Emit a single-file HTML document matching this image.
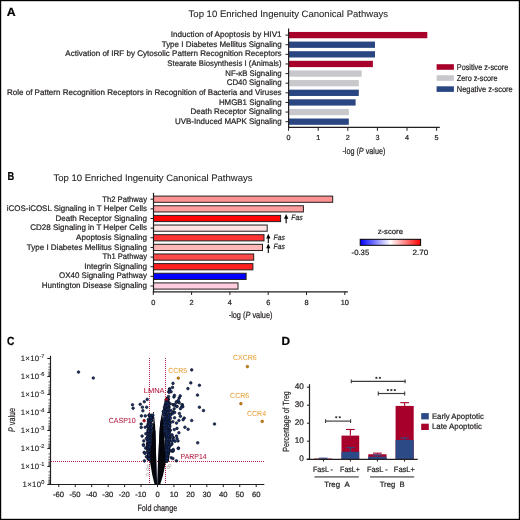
<!DOCTYPE html>
<html><head><meta charset="utf-8"><style>
html,body{margin:0;padding:0;background:#fff;}
svg{display:block;font-family:"Liberation Sans", sans-serif;text-rendering:geometricPrecision;}
#w{position:absolute;left:0;top:0;width:520px;height:520px;transform:translateZ(0);}
</style></head><body>
<div id="w"><svg width="520" height="520" viewBox="0 0 520 520" fill="#231f20">
<text x="6.80" y="16.20" font-size="11.8" textLength="8.90" lengthAdjust="spacingAndGlyphs" font-weight="bold" fill="#000" stroke="#000" stroke-width="0.22">A</text>
<text x="188.60" y="16.80" font-size="9.3" textLength="199.40" lengthAdjust="spacingAndGlyphs" stroke="#231f20" stroke-width="0.1">Top 10 Enriched Ingenuity Canonical Pathways</text>
<text x="281.60" y="37.00" font-size="8.1" text-anchor="end" textLength="110.90" lengthAdjust="spacingAndGlyphs" stroke="#231f20" stroke-width="0.22">Induction of Apoptosis by HIV1</text>
<rect x="288.60" y="31.95" width="138.70" height="6.30" fill="#a6002b"/>
<line x1="285.50" y1="35.10" x2="288.60" y2="35.10" stroke="#231f20" stroke-width="1"/>
<text x="281.60" y="46.68" font-size="8.1" text-anchor="end" textLength="119.90" lengthAdjust="spacingAndGlyphs" stroke="#231f20" stroke-width="0.22">Type I Diabetes Mellitus Signaling</text>
<rect x="288.60" y="41.57" width="86.40" height="6.30" fill="#2a4682"/>
<line x1="285.50" y1="44.72" x2="288.60" y2="44.72" stroke="#231f20" stroke-width="1"/>
<text x="281.60" y="56.36" font-size="8.1" text-anchor="end" textLength="216.30" lengthAdjust="spacingAndGlyphs" stroke="#231f20" stroke-width="0.22">Activation of IRF by Cytosolic Pattern Recognition Receptors</text>
<rect x="288.60" y="51.19" width="86.40" height="6.30" fill="#2a4682"/>
<line x1="285.50" y1="54.34" x2="288.60" y2="54.34" stroke="#231f20" stroke-width="1"/>
<text x="281.60" y="66.04" font-size="8.1" text-anchor="end" textLength="114.30" lengthAdjust="spacingAndGlyphs" stroke="#231f20" stroke-width="0.22">Stearate Biosynthesis I (Animals)</text>
<rect x="288.60" y="60.81" width="84.30" height="6.30" fill="#a6002b"/>
<line x1="285.50" y1="63.96" x2="288.60" y2="63.96" stroke="#231f20" stroke-width="1"/>
<text x="281.60" y="75.72" font-size="8.1" text-anchor="end" textLength="56.30" lengthAdjust="spacingAndGlyphs" stroke="#231f20" stroke-width="0.22">NF-κB Signaling</text>
<rect x="288.60" y="70.43" width="73.10" height="6.30" fill="#c8c7cc"/>
<line x1="285.50" y1="73.58" x2="288.60" y2="73.58" stroke="#231f20" stroke-width="1"/>
<text x="281.60" y="85.40" font-size="8.1" text-anchor="end" textLength="54.90" lengthAdjust="spacingAndGlyphs" stroke="#231f20" stroke-width="0.22">CD40 Signaling</text>
<rect x="288.60" y="80.05" width="70.20" height="6.30" fill="#c8c7cc"/>
<line x1="285.50" y1="83.20" x2="288.60" y2="83.20" stroke="#231f20" stroke-width="1"/>
<text x="281.60" y="95.08" font-size="8.1" text-anchor="end" textLength="274.60" lengthAdjust="spacingAndGlyphs" stroke="#231f20" stroke-width="0.22">Role of Pattern Recognition Receptors in Recognition of Bacteria and Viruses</text>
<rect x="288.60" y="89.67" width="70.20" height="6.30" fill="#2a4682"/>
<line x1="285.50" y1="92.82" x2="288.60" y2="92.82" stroke="#231f20" stroke-width="1"/>
<text x="281.60" y="104.76" font-size="8.1" text-anchor="end" textLength="62.70" lengthAdjust="spacingAndGlyphs" stroke="#231f20" stroke-width="0.22">HMGB1 Signaling</text>
<rect x="288.60" y="99.29" width="67.00" height="6.30" fill="#2a4682"/>
<line x1="285.50" y1="102.44" x2="288.60" y2="102.44" stroke="#231f20" stroke-width="1"/>
<text x="281.60" y="114.44" font-size="8.1" text-anchor="end" textLength="91.10" lengthAdjust="spacingAndGlyphs" stroke="#231f20" stroke-width="0.22">Death Receptor Signaling</text>
<rect x="288.60" y="108.91" width="60.20" height="6.30" fill="#c8c7cc"/>
<line x1="285.50" y1="112.06" x2="288.60" y2="112.06" stroke="#231f20" stroke-width="1"/>
<text x="281.60" y="124.12" font-size="8.1" text-anchor="end" textLength="106.50" lengthAdjust="spacingAndGlyphs" stroke="#231f20" stroke-width="0.22">UVB-Induced MAPK Signaling</text>
<rect x="288.60" y="118.53" width="60.20" height="6.30" fill="#2a4682"/>
<line x1="285.50" y1="121.68" x2="288.60" y2="121.68" stroke="#231f20" stroke-width="1"/>
<line x1="288.60" y1="28.40" x2="288.60" y2="127.90" stroke="#231f20" stroke-width="1.2"/>
<line x1="288.00" y1="127.30" x2="439.80" y2="127.30" stroke="#231f20" stroke-width="1.2"/>
<line x1="288.60" y1="127.30" x2="288.60" y2="130.80" stroke="#231f20" stroke-width="1"/>
<text x="288.60" y="140.40" font-size="7.2" text-anchor="middle" stroke="#231f20" stroke-width="0.22">0</text>
<line x1="318.20" y1="127.30" x2="318.20" y2="130.80" stroke="#231f20" stroke-width="1"/>
<text x="318.20" y="140.40" font-size="7.2" text-anchor="middle" stroke="#231f20" stroke-width="0.22">1</text>
<line x1="347.80" y1="127.30" x2="347.80" y2="130.80" stroke="#231f20" stroke-width="1"/>
<text x="347.80" y="140.40" font-size="7.2" text-anchor="middle" stroke="#231f20" stroke-width="0.22">2</text>
<line x1="377.40" y1="127.30" x2="377.40" y2="130.80" stroke="#231f20" stroke-width="1"/>
<text x="377.40" y="140.40" font-size="7.2" text-anchor="middle" stroke="#231f20" stroke-width="0.22">3</text>
<line x1="407.00" y1="127.30" x2="407.00" y2="130.80" stroke="#231f20" stroke-width="1"/>
<text x="407.00" y="140.40" font-size="7.2" text-anchor="middle" stroke="#231f20" stroke-width="0.22">4</text>
<line x1="436.60" y1="127.30" x2="436.60" y2="130.80" stroke="#231f20" stroke-width="1"/>
<text x="436.60" y="140.40" font-size="7.2" text-anchor="middle" stroke="#231f20" stroke-width="0.22">5</text>
<text x="342.40" y="154.10" font-size="9" textLength="43.00" lengthAdjust="spacingAndGlyphs" stroke="#231f20" stroke-width="0.22">-log (<tspan font-style="italic">P</tspan> value)</text>
<rect x="436.60" y="64.20" width="17.30" height="5.60" fill="#a6002b"/>
<text x="456.80" y="69.70" font-size="8.4" textLength="51.40" lengthAdjust="spacingAndGlyphs" stroke="#231f20" stroke-width="0.22">Positive z-score</text>
<rect x="436.60" y="75.25" width="17.30" height="5.60" fill="#c8c7cc"/>
<text x="456.80" y="80.75" font-size="8.4" textLength="40.70" lengthAdjust="spacingAndGlyphs" stroke="#231f20" stroke-width="0.22">Zero z-score</text>
<rect x="436.60" y="86.30" width="17.30" height="5.60" fill="#2a4682"/>
<text x="456.80" y="91.80" font-size="8.4" textLength="55.90" lengthAdjust="spacingAndGlyphs" stroke="#231f20" stroke-width="0.22">Negative z-score</text>
<text x="7.60" y="180.30" font-size="11.6" textLength="6.70" lengthAdjust="spacingAndGlyphs" font-weight="bold" fill="#000" stroke="#000" stroke-width="0.22">B</text>
<text x="53.40" y="180.80" font-size="9.3" textLength="199.10" lengthAdjust="spacingAndGlyphs" stroke="#231f20" stroke-width="0.1">Top 10 Enriched Ingenuity Canonical Pathways</text>
<text x="147.00" y="201.60" font-size="8.1" text-anchor="end" textLength="44.80" lengthAdjust="spacingAndGlyphs" stroke="#231f20" stroke-width="0.22">Th2 Pathway</text>
<rect x="153.50" y="196.10" width="179.20" height="6.2" fill="#ff9292" stroke="#231f20" stroke-width="1"/>
<line x1="150.50" y1="199.20" x2="153.50" y2="199.20" stroke="#231f20" stroke-width="1"/>
<text x="147.00" y="211.21" font-size="8.1" text-anchor="end" textLength="140.20" lengthAdjust="spacingAndGlyphs" stroke="#231f20" stroke-width="0.22">iCOS-iCOSL Signaling in T Helper Cells</text>
<rect x="153.50" y="205.75" width="149.90" height="6.2" fill="#ff9e9e" stroke="#231f20" stroke-width="1"/>
<line x1="150.50" y1="208.84" x2="153.50" y2="208.84" stroke="#231f20" stroke-width="1"/>
<text x="147.00" y="220.82" font-size="8.1" text-anchor="end" textLength="91.60" lengthAdjust="spacingAndGlyphs" stroke="#231f20" stroke-width="0.22">Death Receptor Signaling</text>
<rect x="153.50" y="215.39" width="127.10" height="6.2" fill="#ff0000" stroke="#231f20" stroke-width="1"/>
<line x1="150.50" y1="218.49" x2="153.50" y2="218.49" stroke="#231f20" stroke-width="1"/>
<text x="147.00" y="230.43" font-size="8.1" text-anchor="end" textLength="116.80" lengthAdjust="spacingAndGlyphs" stroke="#231f20" stroke-width="0.22">CD28 Signaling in T Helper Cells</text>
<rect x="153.50" y="225.03" width="113.70" height="6.2" fill="#ffe2e2" stroke="#231f20" stroke-width="1"/>
<line x1="150.50" y1="228.13" x2="153.50" y2="228.13" stroke="#231f20" stroke-width="1"/>
<text x="147.00" y="240.04" font-size="8.1" text-anchor="end" textLength="71.00" lengthAdjust="spacingAndGlyphs" stroke="#231f20" stroke-width="0.22">Apoptosis Signaling</text>
<rect x="153.50" y="234.68" width="110.50" height="6.2" fill="#ff3333" stroke="#231f20" stroke-width="1"/>
<line x1="150.50" y1="237.78" x2="153.50" y2="237.78" stroke="#231f20" stroke-width="1"/>
<text x="147.00" y="249.65" font-size="8.1" text-anchor="end" textLength="120.20" lengthAdjust="spacingAndGlyphs" stroke="#231f20" stroke-width="0.22">Type I Diabetes Mellitus Signaling</text>
<rect x="153.50" y="244.32" width="109.00" height="6.2" fill="#ffb8b8" stroke="#231f20" stroke-width="1"/>
<line x1="150.50" y1="247.42" x2="153.50" y2="247.42" stroke="#231f20" stroke-width="1"/>
<text x="147.00" y="259.26" font-size="8.1" text-anchor="end" textLength="44.50" lengthAdjust="spacingAndGlyphs" stroke="#231f20" stroke-width="0.22">Th1 Pathway</text>
<rect x="153.50" y="253.97" width="100.20" height="6.2" fill="#ff4a4a" stroke="#231f20" stroke-width="1"/>
<line x1="150.50" y1="257.07" x2="153.50" y2="257.07" stroke="#231f20" stroke-width="1"/>
<text x="147.00" y="268.87" font-size="8.1" text-anchor="end" textLength="62.70" lengthAdjust="spacingAndGlyphs" stroke="#231f20" stroke-width="0.22">Integrin Signaling</text>
<rect x="153.50" y="263.62" width="99.40" height="6.2" fill="#ff1f1f" stroke="#231f20" stroke-width="1"/>
<line x1="150.50" y1="266.72" x2="153.50" y2="266.72" stroke="#231f20" stroke-width="1"/>
<text x="147.00" y="278.48" font-size="8.1" text-anchor="end" textLength="87.90" lengthAdjust="spacingAndGlyphs" stroke="#231f20" stroke-width="0.22">OX40 Signaling Pathway</text>
<rect x="153.50" y="273.26" width="92.60" height="6.2" fill="#0000ff" stroke="#231f20" stroke-width="1"/>
<line x1="150.50" y1="276.36" x2="153.50" y2="276.36" stroke="#231f20" stroke-width="1"/>
<text x="147.00" y="288.09" font-size="8.1" text-anchor="end" textLength="105.20" lengthAdjust="spacingAndGlyphs" stroke="#231f20" stroke-width="0.22">Huntington Disease Signaling</text>
<rect x="153.50" y="282.90" width="84.50" height="6.2" fill="#ffcce0" stroke="#231f20" stroke-width="1"/>
<line x1="150.50" y1="286.00" x2="153.50" y2="286.00" stroke="#231f20" stroke-width="1"/>
<line x1="153.50" y1="192.80" x2="153.50" y2="292.40" stroke="#231f20" stroke-width="1.2"/>
<line x1="152.90" y1="291.80" x2="347.90" y2="291.80" stroke="#231f20" stroke-width="1.2"/>
<line x1="153.30" y1="291.80" x2="153.30" y2="295.00" stroke="#231f20" stroke-width="1"/>
<text x="153.30" y="304.90" font-size="7.4" text-anchor="middle" stroke="#231f20" stroke-width="0.22">0</text>
<line x1="191.60" y1="291.80" x2="191.60" y2="295.00" stroke="#231f20" stroke-width="1"/>
<text x="191.60" y="304.90" font-size="7.4" text-anchor="middle" stroke="#231f20" stroke-width="0.22">2</text>
<line x1="229.90" y1="291.80" x2="229.90" y2="295.00" stroke="#231f20" stroke-width="1"/>
<text x="229.90" y="304.90" font-size="7.4" text-anchor="middle" stroke="#231f20" stroke-width="0.22">4</text>
<line x1="268.20" y1="291.80" x2="268.20" y2="295.00" stroke="#231f20" stroke-width="1"/>
<text x="268.20" y="304.90" font-size="7.4" text-anchor="middle" stroke="#231f20" stroke-width="0.22">6</text>
<line x1="306.50" y1="291.80" x2="306.50" y2="295.00" stroke="#231f20" stroke-width="1"/>
<text x="306.50" y="304.90" font-size="7.4" text-anchor="middle" stroke="#231f20" stroke-width="0.22">8</text>
<line x1="344.80" y1="291.80" x2="344.80" y2="295.00" stroke="#231f20" stroke-width="1"/>
<text x="344.80" y="304.90" font-size="7.4" text-anchor="middle" stroke="#231f20" stroke-width="0.22">10</text>
<text x="228.70" y="318.20" font-size="9" textLength="43.80" lengthAdjust="spacingAndGlyphs" stroke="#231f20" stroke-width="0.22">-log (<tspan font-style="italic">P</tspan> value)</text>
<line x1="286.15" y1="217.1" x2="286.15" y2="223.3" stroke="#000" stroke-width="1.1"/>
<path d="M284.04999999999995,218.7 L286.15,214.1 L288.25,218.7 Z" fill="#000"/>
<text x="291.30" y="220.40" font-size="7.6" textLength="11.30" lengthAdjust="spacingAndGlyphs" font-style="italic" stroke="#231f20" stroke-width="0.22">Fas</text>
<line x1="268.3" y1="236.8" x2="268.3" y2="242.9" stroke="#000" stroke-width="1.1"/>
<path d="M266.2,238.4 L268.3,233.8 L270.40000000000003,238.4 Z" fill="#000"/>
<text x="273.50" y="239.80" font-size="7.6" textLength="11.30" lengthAdjust="spacingAndGlyphs" font-style="italic" stroke="#231f20" stroke-width="0.22">Fas</text>
<line x1="268.3" y1="246.6" x2="268.3" y2="253.1" stroke="#000" stroke-width="1.1"/>
<path d="M266.2,248.2 L268.3,243.6 L270.40000000000003,248.2 Z" fill="#000"/>
<text x="273.50" y="249.30" font-size="7.6" textLength="11.30" lengthAdjust="spacingAndGlyphs" font-style="italic" stroke="#231f20" stroke-width="0.22">Fas</text>
<defs><linearGradient id="zg" x1="0" x2="1" y1="0" y2="0"><stop offset="0" stop-color="#0000ff"/><stop offset="0.5" stop-color="#ffffff"/><stop offset="1" stop-color="#ff0000"/></linearGradient></defs>
<rect x="360.2" y="239.3" width="60.4" height="6.0" fill="url(#zg)" stroke="#000" stroke-width="1"/>
<text x="377.70" y="234.20" font-size="7.6" textLength="25.30" lengthAdjust="spacingAndGlyphs" stroke="#231f20" stroke-width="0.22">z-score</text>
<text x="351.60" y="254.90" font-size="7.6" textLength="17.60" lengthAdjust="spacingAndGlyphs" stroke="#231f20" stroke-width="0.22">-0.35</text>
<text x="412.50" y="254.90" font-size="7.6" textLength="15.90" lengthAdjust="spacingAndGlyphs" stroke="#231f20" stroke-width="0.22">2.70</text>
<text x="7.10" y="345.40" font-size="11.8" textLength="7.40" lengthAdjust="spacingAndGlyphs" font-weight="bold" fill="#000" stroke="#000" stroke-width="0.22">C</text>
<line x1="50.50" y1="355.80" x2="50.50" y2="485.10" stroke="#231f20" stroke-width="1.2"/>
<line x1="47.90" y1="484.50" x2="264.30" y2="484.50" stroke="#231f20" stroke-width="1.2"/>
<line x1="47.30" y1="358.50" x2="50.50" y2="358.50" stroke="#231f20" stroke-width="1"/>
<text x="44.4" y="360.80" font-size="7.8" text-anchor="end" letter-spacing="0.3" fill="#231f20" stroke="#231f20" stroke-width="0.12">1×10<tspan font-size="5.6" dy="-3.3" letter-spacing="0">-7</tspan></text>
<line x1="48.40" y1="363.92" x2="50.50" y2="363.92" stroke="#231f20" stroke-width="0.7"/>
<line x1="48.40" y1="367.09" x2="50.50" y2="367.09" stroke="#231f20" stroke-width="0.7"/>
<line x1="48.40" y1="369.34" x2="50.50" y2="369.34" stroke="#231f20" stroke-width="0.7"/>
<line x1="48.40" y1="371.08" x2="50.50" y2="371.08" stroke="#231f20" stroke-width="0.7"/>
<line x1="48.40" y1="372.51" x2="50.50" y2="372.51" stroke="#231f20" stroke-width="0.7"/>
<line x1="48.40" y1="373.71" x2="50.50" y2="373.71" stroke="#231f20" stroke-width="0.7"/>
<line x1="48.40" y1="374.76" x2="50.50" y2="374.76" stroke="#231f20" stroke-width="0.7"/>
<line x1="48.40" y1="375.68" x2="50.50" y2="375.68" stroke="#231f20" stroke-width="0.7"/>
<line x1="47.30" y1="376.50" x2="50.50" y2="376.50" stroke="#231f20" stroke-width="1"/>
<text x="44.4" y="378.80" font-size="7.8" text-anchor="end" letter-spacing="0.3" fill="#231f20" stroke="#231f20" stroke-width="0.12">1×10<tspan font-size="5.6" dy="-3.3" letter-spacing="0">-6</tspan></text>
<line x1="48.40" y1="381.92" x2="50.50" y2="381.92" stroke="#231f20" stroke-width="0.7"/>
<line x1="48.40" y1="385.09" x2="50.50" y2="385.09" stroke="#231f20" stroke-width="0.7"/>
<line x1="48.40" y1="387.34" x2="50.50" y2="387.34" stroke="#231f20" stroke-width="0.7"/>
<line x1="48.40" y1="389.08" x2="50.50" y2="389.08" stroke="#231f20" stroke-width="0.7"/>
<line x1="48.40" y1="390.51" x2="50.50" y2="390.51" stroke="#231f20" stroke-width="0.7"/>
<line x1="48.40" y1="391.71" x2="50.50" y2="391.71" stroke="#231f20" stroke-width="0.7"/>
<line x1="48.40" y1="392.76" x2="50.50" y2="392.76" stroke="#231f20" stroke-width="0.7"/>
<line x1="48.40" y1="393.68" x2="50.50" y2="393.68" stroke="#231f20" stroke-width="0.7"/>
<line x1="47.30" y1="394.50" x2="50.50" y2="394.50" stroke="#231f20" stroke-width="1"/>
<text x="44.4" y="396.80" font-size="7.8" text-anchor="end" letter-spacing="0.3" fill="#231f20" stroke="#231f20" stroke-width="0.12">1×10<tspan font-size="5.6" dy="-3.3" letter-spacing="0">-5</tspan></text>
<line x1="48.40" y1="399.92" x2="50.50" y2="399.92" stroke="#231f20" stroke-width="0.7"/>
<line x1="48.40" y1="403.09" x2="50.50" y2="403.09" stroke="#231f20" stroke-width="0.7"/>
<line x1="48.40" y1="405.34" x2="50.50" y2="405.34" stroke="#231f20" stroke-width="0.7"/>
<line x1="48.40" y1="407.08" x2="50.50" y2="407.08" stroke="#231f20" stroke-width="0.7"/>
<line x1="48.40" y1="408.51" x2="50.50" y2="408.51" stroke="#231f20" stroke-width="0.7"/>
<line x1="48.40" y1="409.71" x2="50.50" y2="409.71" stroke="#231f20" stroke-width="0.7"/>
<line x1="48.40" y1="410.76" x2="50.50" y2="410.76" stroke="#231f20" stroke-width="0.7"/>
<line x1="48.40" y1="411.68" x2="50.50" y2="411.68" stroke="#231f20" stroke-width="0.7"/>
<line x1="47.30" y1="412.50" x2="50.50" y2="412.50" stroke="#231f20" stroke-width="1"/>
<text x="44.4" y="414.80" font-size="7.8" text-anchor="end" letter-spacing="0.3" fill="#231f20" stroke="#231f20" stroke-width="0.12">1×10<tspan font-size="5.6" dy="-3.3" letter-spacing="0">-4</tspan></text>
<line x1="48.40" y1="417.92" x2="50.50" y2="417.92" stroke="#231f20" stroke-width="0.7"/>
<line x1="48.40" y1="421.09" x2="50.50" y2="421.09" stroke="#231f20" stroke-width="0.7"/>
<line x1="48.40" y1="423.34" x2="50.50" y2="423.34" stroke="#231f20" stroke-width="0.7"/>
<line x1="48.40" y1="425.08" x2="50.50" y2="425.08" stroke="#231f20" stroke-width="0.7"/>
<line x1="48.40" y1="426.51" x2="50.50" y2="426.51" stroke="#231f20" stroke-width="0.7"/>
<line x1="48.40" y1="427.71" x2="50.50" y2="427.71" stroke="#231f20" stroke-width="0.7"/>
<line x1="48.40" y1="428.76" x2="50.50" y2="428.76" stroke="#231f20" stroke-width="0.7"/>
<line x1="48.40" y1="429.68" x2="50.50" y2="429.68" stroke="#231f20" stroke-width="0.7"/>
<line x1="47.30" y1="430.50" x2="50.50" y2="430.50" stroke="#231f20" stroke-width="1"/>
<text x="44.4" y="432.80" font-size="7.8" text-anchor="end" letter-spacing="0.3" fill="#231f20" stroke="#231f20" stroke-width="0.12">1×10<tspan font-size="5.6" dy="-3.3" letter-spacing="0">-3</tspan></text>
<line x1="48.40" y1="435.92" x2="50.50" y2="435.92" stroke="#231f20" stroke-width="0.7"/>
<line x1="48.40" y1="439.09" x2="50.50" y2="439.09" stroke="#231f20" stroke-width="0.7"/>
<line x1="48.40" y1="441.34" x2="50.50" y2="441.34" stroke="#231f20" stroke-width="0.7"/>
<line x1="48.40" y1="443.08" x2="50.50" y2="443.08" stroke="#231f20" stroke-width="0.7"/>
<line x1="48.40" y1="444.51" x2="50.50" y2="444.51" stroke="#231f20" stroke-width="0.7"/>
<line x1="48.40" y1="445.71" x2="50.50" y2="445.71" stroke="#231f20" stroke-width="0.7"/>
<line x1="48.40" y1="446.76" x2="50.50" y2="446.76" stroke="#231f20" stroke-width="0.7"/>
<line x1="48.40" y1="447.68" x2="50.50" y2="447.68" stroke="#231f20" stroke-width="0.7"/>
<line x1="47.30" y1="448.50" x2="50.50" y2="448.50" stroke="#231f20" stroke-width="1"/>
<text x="44.4" y="450.80" font-size="7.8" text-anchor="end" letter-spacing="0.3" fill="#231f20" stroke="#231f20" stroke-width="0.12">1×10<tspan font-size="5.6" dy="-3.3" letter-spacing="0">-2</tspan></text>
<line x1="48.40" y1="453.92" x2="50.50" y2="453.92" stroke="#231f20" stroke-width="0.7"/>
<line x1="48.40" y1="457.09" x2="50.50" y2="457.09" stroke="#231f20" stroke-width="0.7"/>
<line x1="48.40" y1="459.34" x2="50.50" y2="459.34" stroke="#231f20" stroke-width="0.7"/>
<line x1="48.40" y1="461.08" x2="50.50" y2="461.08" stroke="#231f20" stroke-width="0.7"/>
<line x1="48.40" y1="462.51" x2="50.50" y2="462.51" stroke="#231f20" stroke-width="0.7"/>
<line x1="48.40" y1="463.71" x2="50.50" y2="463.71" stroke="#231f20" stroke-width="0.7"/>
<line x1="48.40" y1="464.76" x2="50.50" y2="464.76" stroke="#231f20" stroke-width="0.7"/>
<line x1="48.40" y1="465.68" x2="50.50" y2="465.68" stroke="#231f20" stroke-width="0.7"/>
<line x1="47.30" y1="466.50" x2="50.50" y2="466.50" stroke="#231f20" stroke-width="1"/>
<text x="44.4" y="468.80" font-size="7.8" text-anchor="end" letter-spacing="0.3" fill="#231f20" stroke="#231f20" stroke-width="0.12">1×10<tspan font-size="5.6" dy="-3.3" letter-spacing="0">-1</tspan></text>
<line x1="48.40" y1="471.92" x2="50.50" y2="471.92" stroke="#231f20" stroke-width="0.7"/>
<line x1="48.40" y1="475.09" x2="50.50" y2="475.09" stroke="#231f20" stroke-width="0.7"/>
<line x1="48.40" y1="477.34" x2="50.50" y2="477.34" stroke="#231f20" stroke-width="0.7"/>
<line x1="48.40" y1="479.08" x2="50.50" y2="479.08" stroke="#231f20" stroke-width="0.7"/>
<line x1="48.40" y1="480.51" x2="50.50" y2="480.51" stroke="#231f20" stroke-width="0.7"/>
<line x1="48.40" y1="481.71" x2="50.50" y2="481.71" stroke="#231f20" stroke-width="0.7"/>
<line x1="48.40" y1="482.76" x2="50.50" y2="482.76" stroke="#231f20" stroke-width="0.7"/>
<line x1="48.40" y1="483.68" x2="50.50" y2="483.68" stroke="#231f20" stroke-width="0.7"/>
<line x1="47.30" y1="484.50" x2="50.50" y2="484.50" stroke="#231f20" stroke-width="1"/>
<text x="44.4" y="486.80" font-size="7.8" text-anchor="end" letter-spacing="0.3" fill="#231f20" stroke="#231f20" stroke-width="0.12">1×10<tspan font-size="5.6" dy="-3.3" letter-spacing="0">0</tspan></text>
<line x1="58.80" y1="484.50" x2="58.80" y2="487.10" stroke="#231f20" stroke-width="1"/>
<text x="58.50" y="497.20" font-size="7.6" text-anchor="middle" stroke="#231f20" stroke-width="0.22">-60</text>
<line x1="75.25" y1="484.50" x2="75.25" y2="487.10" stroke="#231f20" stroke-width="1"/>
<text x="74.95" y="497.20" font-size="7.6" text-anchor="middle" stroke="#231f20" stroke-width="0.22">-50</text>
<line x1="91.70" y1="484.50" x2="91.70" y2="487.10" stroke="#231f20" stroke-width="1"/>
<text x="91.40" y="497.20" font-size="7.6" text-anchor="middle" stroke="#231f20" stroke-width="0.22">-40</text>
<line x1="108.15" y1="484.50" x2="108.15" y2="487.10" stroke="#231f20" stroke-width="1"/>
<text x="107.85" y="497.20" font-size="7.6" text-anchor="middle" stroke="#231f20" stroke-width="0.22">-30</text>
<line x1="124.60" y1="484.50" x2="124.60" y2="487.10" stroke="#231f20" stroke-width="1"/>
<text x="124.30" y="497.20" font-size="7.6" text-anchor="middle" stroke="#231f20" stroke-width="0.22">-20</text>
<line x1="141.05" y1="484.50" x2="141.05" y2="487.10" stroke="#231f20" stroke-width="1"/>
<text x="140.75" y="497.20" font-size="7.6" text-anchor="middle" stroke="#231f20" stroke-width="0.22">-10</text>
<line x1="157.50" y1="484.50" x2="157.50" y2="487.10" stroke="#231f20" stroke-width="1"/>
<text x="157.50" y="497.20" font-size="7.6" text-anchor="middle" stroke="#231f20" stroke-width="0.22">0</text>
<line x1="173.95" y1="484.50" x2="173.95" y2="487.10" stroke="#231f20" stroke-width="1"/>
<text x="173.95" y="497.20" font-size="7.6" text-anchor="middle" stroke="#231f20" stroke-width="0.22">10</text>
<line x1="190.40" y1="484.50" x2="190.40" y2="487.10" stroke="#231f20" stroke-width="1"/>
<text x="190.40" y="497.20" font-size="7.6" text-anchor="middle" stroke="#231f20" stroke-width="0.22">20</text>
<line x1="206.85" y1="484.50" x2="206.85" y2="487.10" stroke="#231f20" stroke-width="1"/>
<text x="206.85" y="497.20" font-size="7.6" text-anchor="middle" stroke="#231f20" stroke-width="0.22">30</text>
<line x1="223.30" y1="484.50" x2="223.30" y2="487.10" stroke="#231f20" stroke-width="1"/>
<text x="223.30" y="497.20" font-size="7.6" text-anchor="middle" stroke="#231f20" stroke-width="0.22">40</text>
<line x1="239.75" y1="484.50" x2="239.75" y2="487.10" stroke="#231f20" stroke-width="1"/>
<text x="239.75" y="497.20" font-size="7.6" text-anchor="middle" stroke="#231f20" stroke-width="0.22">50</text>
<line x1="256.20" y1="484.50" x2="256.20" y2="487.10" stroke="#231f20" stroke-width="1"/>
<text x="256.20" y="497.20" font-size="7.6" text-anchor="middle" stroke="#231f20" stroke-width="0.22">60</text>
<text x="137.40" y="510.50" font-size="9" textLength="39.80" lengthAdjust="spacingAndGlyphs" stroke="#231f20" stroke-width="0.22">Fold change</text>
<text transform="translate(15.0,432) rotate(-90)" font-size="9.6" textLength="24" lengthAdjust="spacingAndGlyphs" fill="#231f20" stroke="#231f20" stroke-width="0.2"><tspan font-style="italic">P</tspan> value</text>
<line x1="149.50" y1="358.00" x2="149.50" y2="484.00" stroke="#b8234c" stroke-width="1" stroke-dasharray="1 1"/>
<line x1="165.50" y1="358.00" x2="165.50" y2="484.00" stroke="#b8234c" stroke-width="1" stroke-dasharray="1 1"/>
<line x1="51.00" y1="461.50" x2="265.00" y2="461.50" stroke="#b8234c" stroke-width="1" stroke-dasharray="1 1"/>
<g fill="none" stroke="#8c8c8c" stroke-width="0.5">
<circle cx="147.60" cy="469.20" r="1.3"/>
<circle cx="147.40" cy="474.60" r="1.3"/>
<circle cx="169.60" cy="465.50" r="1.3"/>
<circle cx="168.20" cy="467.30" r="1.3"/>
<circle cx="148.30" cy="466.00" r="1.3"/>
</g>
<polygon fill="#1a2c5e" points="155.92,484.50 155.77,483.50 155.61,482.50 155.46,481.50 155.30,480.50 155.17,479.50 155.06,478.50 154.94,477.50 154.83,476.50 154.72,475.50 154.59,474.50 154.45,473.50 154.31,472.50 154.17,471.50 154.03,470.50 153.89,469.50 153.75,468.50 153.61,467.50 153.47,466.50 153.33,465.50 153.19,464.50 153.05,463.50 152.91,462.50 152.78,461.50 152.67,460.50 152.56,459.50 152.46,458.50 152.35,457.50 152.24,456.50 152.13,455.50 152.02,454.50 151.91,453.50 151.85,452.50 151.83,451.50 151.81,450.50 151.79,449.50 151.77,448.50 151.75,447.50 151.73,446.50 151.71,445.50 151.69,444.50 151.67,443.50 151.65,442.50 151.63,441.50 151.61,440.50 151.61,439.50 151.62,438.50 151.62,437.50 151.63,436.50 151.64,435.50 151.64,434.50 151.65,433.50 151.66,432.50 151.66,431.50 151.67,430.50 155.51,430.50 155.53,431.50 155.55,432.50 155.57,433.50 155.59,434.50 155.61,435.50 155.63,436.50 155.65,437.50 155.67,438.50 155.69,439.50 155.71,440.50 155.73,441.50 155.76,442.50 155.78,443.50 155.80,444.50 155.83,445.50 155.85,446.50 155.87,447.50 155.90,448.50 155.92,449.50 155.94,450.50 155.97,451.50 155.99,452.50 156.02,453.50 156.05,454.50 156.08,455.50 156.12,456.50 156.15,457.50 156.18,458.50 156.22,459.50 156.25,460.50 156.28,461.50 156.31,462.50 156.33,463.50 156.36,464.50 156.38,465.50 156.40,466.50 156.43,467.50 156.45,468.50 156.47,469.50 156.50,470.50 156.52,471.50 156.54,472.50 156.57,473.50 156.59,474.50 156.62,475.50 156.66,476.50 156.70,477.50 156.74,478.50 156.78,479.50 156.82,480.50 156.87,481.50 156.91,482.50 156.96,483.50 157.00,484.50"/>
<polygon fill="#1a2c5e" points="158.66,484.50 158.80,483.50 158.94,482.50 159.09,481.50 159.23,480.50 159.38,479.50 159.55,478.50 159.72,477.50 159.88,476.50 160.05,475.50 160.21,474.50 160.38,473.50 160.55,472.50 160.72,471.50 160.89,470.50 161.06,469.50 161.22,468.50 161.39,467.50 161.56,466.50 161.73,465.50 161.90,464.50 162.07,463.50 162.24,462.50 162.38,461.50 162.51,460.50 162.63,459.50 162.76,458.50 162.88,457.50 163.01,456.50 163.14,455.50 163.26,454.50 163.39,453.50 163.48,452.50 163.55,451.50 163.61,450.50 163.67,449.50 163.74,448.50 163.80,447.50 163.86,446.50 163.93,445.50 163.99,444.50 164.05,443.50 164.12,442.50 164.18,441.50 164.24,440.50 164.30,439.50 164.34,438.50 164.38,437.50 164.42,436.50 164.46,435.50 164.50,434.50 164.53,433.50 164.58,432.50 164.62,431.50 164.66,430.50 164.71,429.50 164.77,428.50 164.84,427.50 164.91,426.50 164.97,425.50 165.04,424.50 165.11,423.50 165.17,422.50 165.27,421.50 165.39,420.50 160.55,420.50 160.38,421.50 160.25,422.50 160.15,423.50 160.05,424.50 159.95,425.50 159.85,426.50 159.75,427.50 159.65,428.50 159.55,429.50 159.48,430.50 159.44,431.50 159.40,432.50 159.36,433.50 159.32,434.50 159.28,435.50 159.24,436.50 159.20,437.50 159.16,438.50 159.12,439.50 159.08,440.50 159.03,441.50 158.98,442.50 158.94,443.50 158.89,444.50 158.85,445.50 158.80,446.50 158.75,447.50 158.71,448.50 158.66,449.50 158.62,450.50 158.57,451.50 158.52,452.50 158.47,453.50 158.42,454.50 158.36,455.50 158.31,456.50 158.25,457.50 158.19,458.50 158.14,459.50 158.08,460.50 158.03,461.50 157.99,462.50 157.97,463.50 157.94,464.50 157.92,465.50 157.90,466.50 157.87,467.50 157.85,468.50 157.83,469.50 157.80,470.50 157.78,471.50 157.76,472.50 157.73,473.50 157.71,474.50 157.68,475.50 157.64,476.50 157.60,477.50 157.56,478.50 157.52,479.50 157.49,480.50 157.47,481.50 157.44,482.50 157.42,483.50 157.40,484.50"/>
<polygon fill="#04060b" points="154.60,484.50 152.30,475.00 150.00,462.00 150.40,452.00 151.00,445.00 152.00,435.00 153.00,425.00 153.80,418.00 154.00,412.00 153.00,412.00 154.27,418.00 155.06,425.00 155.60,435.00 155.82,445.00 155.98,452.00 156.30,462.00 156.60,475.00 157.00,484.50"/>
<polygon fill="#04060b" points="157.40,484.50 157.70,475.00 158.00,462.00 158.55,452.00 158.87,445.00 159.30,435.00 160.00,425.00 160.97,418.00 162.17,412.00 162.60,412.00 162.80,418.00 163.40,425.00 164.00,435.00 164.80,445.00 165.60,452.00 165.80,462.00 163.10,475.00 160.20,484.50"/>
<g fill="#183474" stroke="#0d0d16" stroke-width="0.65">
<circle cx="168.48" cy="452.43" r="1.3"/>
<circle cx="166.64" cy="449.69" r="1.3"/>
<circle cx="164.85" cy="426.52" r="1.3"/>
<circle cx="148.65" cy="435.61" r="1.3"/>
<circle cx="167.61" cy="403.59" r="1.3"/>
<circle cx="167.23" cy="420.25" r="1.3"/>
<circle cx="167.27" cy="441.80" r="1.3"/>
<circle cx="167.81" cy="399.13" r="1.3"/>
<circle cx="163.74" cy="419.61" r="1.3"/>
<circle cx="166.97" cy="460.67" r="1.3"/>
<circle cx="148.07" cy="452.63" r="1.3"/>
<circle cx="165.20" cy="430.80" r="1.3"/>
<circle cx="149.92" cy="443.32" r="1.3"/>
<circle cx="166.04" cy="425.22" r="1.3"/>
<circle cx="165.91" cy="444.03" r="1.3"/>
<circle cx="149.14" cy="456.55" r="1.3"/>
<circle cx="166.94" cy="459.48" r="1.3"/>
<circle cx="165.61" cy="423.41" r="1.3"/>
<circle cx="165.44" cy="407.03" r="1.3"/>
<circle cx="167.24" cy="448.05" r="1.3"/>
<circle cx="151.55" cy="418.88" r="1.3"/>
<circle cx="149.05" cy="434.16" r="1.3"/>
<circle cx="150.02" cy="444.42" r="1.3"/>
<circle cx="167.87" cy="418.95" r="1.3"/>
<circle cx="147.97" cy="426.98" r="1.3"/>
<circle cx="169.83" cy="449.99" r="1.3"/>
<circle cx="173.25" cy="437.49" r="1.3"/>
<circle cx="166.40" cy="434.07" r="1.3"/>
<circle cx="149.07" cy="459.47" r="1.3"/>
<circle cx="168.81" cy="437.18" r="1.3"/>
<circle cx="147.83" cy="447.69" r="1.3"/>
<circle cx="148.01" cy="437.56" r="1.3"/>
<circle cx="166.14" cy="447.50" r="1.3"/>
<circle cx="168.66" cy="415.33" r="1.3"/>
<circle cx="167.36" cy="450.34" r="1.3"/>
<circle cx="150.42" cy="441.56" r="1.3"/>
<circle cx="167.12" cy="458.28" r="1.3"/>
<circle cx="149.37" cy="448.33" r="1.3"/>
<circle cx="167.20" cy="442.07" r="1.3"/>
<circle cx="149.31" cy="449.43" r="1.3"/>
<circle cx="169.04" cy="410.66" r="1.3"/>
<circle cx="168.52" cy="419.43" r="1.3"/>
<circle cx="166.81" cy="458.58" r="1.3"/>
<circle cx="167.07" cy="451.37" r="1.3"/>
<circle cx="168.70" cy="442.61" r="1.3"/>
<circle cx="167.37" cy="456.17" r="1.3"/>
<circle cx="147.89" cy="437.42" r="1.3"/>
<circle cx="165.46" cy="435.02" r="1.3"/>
<circle cx="165.75" cy="411.24" r="1.3"/>
<circle cx="169.87" cy="426.05" r="1.3"/>
<circle cx="168.04" cy="423.34" r="1.3"/>
<circle cx="147.97" cy="425.98" r="1.3"/>
<circle cx="166.19" cy="426.80" r="1.3"/>
<circle cx="174.25" cy="429.57" r="1.3"/>
<circle cx="150.34" cy="436.61" r="1.3"/>
<circle cx="168.35" cy="420.56" r="1.3"/>
<circle cx="165.28" cy="405.80" r="1.3"/>
<circle cx="167.53" cy="444.35" r="1.3"/>
<circle cx="148.16" cy="431.90" r="1.3"/>
<circle cx="167.20" cy="403.06" r="1.3"/>
<circle cx="166.01" cy="447.88" r="1.3"/>
<circle cx="167.52" cy="452.13" r="1.3"/>
<circle cx="148.32" cy="419.56" r="1.3"/>
<circle cx="169.64" cy="423.67" r="1.3"/>
<circle cx="164.54" cy="409.14" r="1.3"/>
<circle cx="149.13" cy="447.52" r="1.3"/>
<circle cx="167.55" cy="444.39" r="1.3"/>
<circle cx="165.24" cy="418.38" r="1.3"/>
<circle cx="165.51" cy="412.24" r="1.3"/>
<circle cx="164.41" cy="414.29" r="1.3"/>
<circle cx="149.72" cy="433.28" r="1.3"/>
<circle cx="147.81" cy="447.95" r="1.3"/>
<circle cx="167.25" cy="457.78" r="1.3"/>
<circle cx="149.09" cy="459.03" r="1.3"/>
<circle cx="147.83" cy="432.43" r="1.3"/>
<circle cx="167.07" cy="456.64" r="1.3"/>
<circle cx="147.95" cy="446.23" r="1.3"/>
<circle cx="166.83" cy="433.03" r="1.3"/>
<circle cx="148.64" cy="426.73" r="1.3"/>
<circle cx="167.10" cy="445.36" r="1.3"/>
<circle cx="167.95" cy="401.02" r="1.3"/>
<circle cx="168.81" cy="432.43" r="1.3"/>
<circle cx="148.35" cy="426.36" r="1.3"/>
<circle cx="166.77" cy="429.93" r="1.3"/>
<circle cx="148.35" cy="451.83" r="1.3"/>
<circle cx="166.75" cy="441.40" r="1.3"/>
<circle cx="167.13" cy="454.98" r="1.3"/>
<circle cx="168.66" cy="437.46" r="1.3"/>
<circle cx="148.26" cy="453.83" r="1.3"/>
<circle cx="167.49" cy="453.37" r="1.3"/>
<circle cx="167.46" cy="399.21" r="1.3"/>
<circle cx="148.45" cy="455.33" r="1.3"/>
<circle cx="166.05" cy="447.26" r="1.3"/>
<circle cx="167.42" cy="455.58" r="1.3"/>
<circle cx="148.50" cy="450.39" r="1.3"/>
<circle cx="164.89" cy="431.96" r="1.3"/>
<circle cx="166.42" cy="402.39" r="1.3"/>
<circle cx="167.19" cy="434.98" r="1.3"/>
<circle cx="166.30" cy="448.04" r="1.3"/>
<circle cx="148.96" cy="456.59" r="1.3"/>
<circle cx="167.94" cy="398.85" r="1.3"/>
<circle cx="167.98" cy="427.60" r="1.3"/>
<circle cx="148.56" cy="447.70" r="1.3"/>
<circle cx="165.62" cy="431.36" r="1.3"/>
<circle cx="170.92" cy="410.45" r="1.3"/>
<circle cx="148.57" cy="448.50" r="1.3"/>
<circle cx="164.32" cy="420.75" r="1.3"/>
<circle cx="168.39" cy="445.95" r="1.3"/>
<circle cx="166.88" cy="400.08" r="1.3"/>
<circle cx="166.18" cy="409.75" r="1.3"/>
<circle cx="151.43" cy="428.70" r="1.3"/>
<circle cx="167.03" cy="459.38" r="1.3"/>
<circle cx="149.57" cy="449.77" r="1.3"/>
<circle cx="166.39" cy="438.28" r="1.3"/>
<circle cx="149.20" cy="443.89" r="1.3"/>
<circle cx="168.53" cy="451.50" r="1.3"/>
<circle cx="165.13" cy="413.32" r="1.3"/>
<circle cx="148.83" cy="458.07" r="1.3"/>
<circle cx="166.80" cy="452.14" r="1.3"/>
<circle cx="168.63" cy="451.68" r="1.3"/>
<circle cx="164.82" cy="427.13" r="1.3"/>
<circle cx="163.99" cy="412.73" r="1.3"/>
<circle cx="148.49" cy="441.98" r="1.3"/>
<circle cx="148.92" cy="440.07" r="1.3"/>
<circle cx="167.42" cy="440.70" r="1.3"/>
<circle cx="169.42" cy="436.67" r="1.3"/>
<circle cx="168.96" cy="441.33" r="1.3"/>
<circle cx="170.10" cy="414.14" r="1.3"/>
<circle cx="168.87" cy="436.45" r="1.3"/>
<circle cx="166.99" cy="399.81" r="1.3"/>
<circle cx="152.60" cy="418.06" r="1.3"/>
<circle cx="148.08" cy="451.02" r="1.3"/>
<circle cx="163.45" cy="411.34" r="1.3"/>
<circle cx="148.56" cy="444.71" r="1.3"/>
<circle cx="149.53" cy="440.84" r="1.3"/>
<circle cx="166.71" cy="459.85" r="1.3"/>
<circle cx="167.00" cy="404.69" r="1.3"/>
<circle cx="148.80" cy="420.63" r="1.3"/>
<circle cx="166.86" cy="456.59" r="1.3"/>
<circle cx="148.51" cy="436.93" r="1.3"/>
<circle cx="167.36" cy="456.56" r="1.3"/>
<circle cx="150.73" cy="439.57" r="1.3"/>
<circle cx="164.53" cy="422.86" r="1.3"/>
<circle cx="166.94" cy="460.79" r="1.3"/>
<circle cx="166.72" cy="455.68" r="1.3"/>
<circle cx="166.67" cy="435.86" r="1.3"/>
<circle cx="168.16" cy="403.28" r="1.3"/>
<circle cx="149.04" cy="415.49" r="1.3"/>
<circle cx="149.18" cy="449.36" r="1.3"/>
<circle cx="168.05" cy="452.13" r="1.3"/>
<circle cx="165.81" cy="436.65" r="1.3"/>
<circle cx="166.33" cy="449.15" r="1.3"/>
<circle cx="168.49" cy="443.45" r="1.3"/>
<circle cx="147.64" cy="446.34" r="1.3"/>
<circle cx="165.95" cy="447.53" r="1.3"/>
<circle cx="149.43" cy="450.78" r="1.3"/>
<circle cx="169.15" cy="427.07" r="1.3"/>
<circle cx="147.78" cy="439.96" r="1.3"/>
<circle cx="147.61" cy="445.07" r="1.3"/>
<circle cx="165.15" cy="421.14" r="1.3"/>
<circle cx="166.60" cy="437.93" r="1.3"/>
<circle cx="152.19" cy="417.62" r="1.3"/>
<circle cx="167.67" cy="452.34" r="1.3"/>
<circle cx="167.86" cy="399.65" r="1.3"/>
<circle cx="150.13" cy="434.06" r="1.3"/>
<circle cx="148.69" cy="457.29" r="1.3"/>
<circle cx="167.61" cy="407.16" r="1.3"/>
<circle cx="166.71" cy="433.23" r="1.3"/>
<circle cx="167.40" cy="448.40" r="1.3"/>
<circle cx="168.62" cy="438.81" r="1.3"/>
<circle cx="167.83" cy="399.29" r="1.3"/>
<circle cx="166.73" cy="411.89" r="1.3"/>
<circle cx="173.84" cy="412.02" r="1.3"/>
<circle cx="167.85" cy="433.90" r="1.3"/>
<circle cx="149.34" cy="455.67" r="1.3"/>
<circle cx="171.27" cy="457.79" r="1.3"/>
<circle cx="167.64" cy="403.34" r="1.3"/>
<circle cx="165.54" cy="424.99" r="1.3"/>
<circle cx="164.06" cy="412.14" r="1.3"/>
<circle cx="166.54" cy="423.70" r="1.3"/>
<circle cx="150.64" cy="426.14" r="1.3"/>
<circle cx="167.11" cy="401.80" r="1.3"/>
<circle cx="148.32" cy="423.45" r="1.3"/>
<circle cx="166.70" cy="399.17" r="1.3"/>
<circle cx="151.62" cy="428.15" r="1.3"/>
<circle cx="168.62" cy="416.68" r="1.3"/>
<circle cx="166.57" cy="407.39" r="1.3"/>
<circle cx="166.50" cy="426.83" r="1.3"/>
<circle cx="166.75" cy="449.44" r="1.3"/>
<circle cx="166.49" cy="441.29" r="1.3"/>
<circle cx="150.68" cy="416.51" r="1.3"/>
<circle cx="150.69" cy="436.27" r="1.3"/>
<circle cx="149.23" cy="459.31" r="1.3"/>
<circle cx="166.69" cy="431.69" r="1.3"/>
<circle cx="166.90" cy="443.70" r="1.3"/>
<circle cx="167.18" cy="456.51" r="1.3"/>
<circle cx="167.86" cy="456.16" r="1.3"/>
<circle cx="168.91" cy="428.98" r="1.3"/>
<circle cx="146.36" cy="456.76" r="1.3"/>
<circle cx="168.44" cy="451.17" r="1.3"/>
<circle cx="167.64" cy="451.53" r="1.3"/>
<circle cx="148.55" cy="453.34" r="1.3"/>
<circle cx="172.86" cy="421.73" r="1.3"/>
<circle cx="170.01" cy="430.41" r="1.3"/>
<circle cx="164.85" cy="432.37" r="1.3"/>
<circle cx="149.23" cy="414.96" r="1.3"/>
<circle cx="166.05" cy="408.14" r="1.3"/>
<circle cx="165.99" cy="447.29" r="1.3"/>
<circle cx="147.90" cy="446.82" r="1.3"/>
<circle cx="149.95" cy="432.13" r="1.3"/>
<circle cx="149.24" cy="459.20" r="1.3"/>
<circle cx="169.08" cy="439.95" r="1.3"/>
<circle cx="149.07" cy="423.35" r="1.3"/>
<circle cx="172.09" cy="434.90" r="1.3"/>
<circle cx="166.56" cy="456.27" r="1.3"/>
<circle cx="149.40" cy="455.51" r="1.3"/>
<circle cx="166.71" cy="453.95" r="1.3"/>
<circle cx="148.40" cy="443.93" r="1.3"/>
<circle cx="150.73" cy="429.69" r="1.3"/>
<circle cx="168.26" cy="451.83" r="1.3"/>
<circle cx="147.80" cy="449.02" r="1.3"/>
<circle cx="169.39" cy="441.34" r="1.3"/>
<circle cx="149.37" cy="452.37" r="1.3"/>
<circle cx="167.65" cy="437.44" r="1.3"/>
<circle cx="167.43" cy="449.84" r="1.3"/>
<circle cx="149.55" cy="426.89" r="1.3"/>
<circle cx="168.97" cy="446.84" r="1.3"/>
<circle cx="168.13" cy="406.75" r="1.3"/>
<circle cx="166.21" cy="415.33" r="1.3"/>
<circle cx="152.13" cy="417.22" r="1.3"/>
<circle cx="145.64" cy="448.15" r="1.3"/>
<circle cx="167.63" cy="443.13" r="1.3"/>
<circle cx="170.12" cy="421.71" r="1.3"/>
<circle cx="150.53" cy="427.48" r="1.3"/>
<circle cx="169.57" cy="439.12" r="1.3"/>
<circle cx="148.61" cy="453.31" r="1.3"/>
<circle cx="166.87" cy="454.90" r="1.3"/>
<circle cx="149.77" cy="445.88" r="1.3"/>
<circle cx="166.66" cy="459.74" r="1.3"/>
<circle cx="147.96" cy="440.67" r="1.3"/>
<circle cx="168.60" cy="446.03" r="1.3"/>
<circle cx="169.07" cy="406.95" r="1.3"/>
<circle cx="166.28" cy="400.13" r="1.3"/>
<circle cx="147.57" cy="443.39" r="1.3"/>
<circle cx="166.80" cy="459.54" r="1.3"/>
<circle cx="165.69" cy="420.73" r="1.3"/>
<circle cx="170.00" cy="429.91" r="1.3"/>
<circle cx="168.04" cy="453.76" r="1.3"/>
<circle cx="166.72" cy="398.92" r="1.3"/>
<circle cx="149.05" cy="459.12" r="1.3"/>
<circle cx="148.49" cy="421.62" r="1.3"/>
<circle cx="168.57" cy="421.37" r="1.3"/>
<circle cx="149.51" cy="441.23" r="1.3"/>
<circle cx="168.97" cy="424.38" r="1.3"/>
<circle cx="148.18" cy="436.28" r="1.3"/>
<circle cx="166.37" cy="424.30" r="1.3"/>
<circle cx="167.80" cy="453.74" r="1.3"/>
<circle cx="165.87" cy="405.36" r="1.3"/>
<circle cx="150.17" cy="441.17" r="1.3"/>
<circle cx="166.16" cy="403.89" r="1.3"/>
<circle cx="147.74" cy="448.41" r="1.3"/>
<circle cx="169.42" cy="414.27" r="1.3"/>
<circle cx="166.63" cy="451.65" r="1.3"/>
<circle cx="172.17" cy="451.15" r="1.3"/>
<circle cx="167.77" cy="449.09" r="1.3"/>
<circle cx="166.34" cy="433.19" r="1.3"/>
<circle cx="166.73" cy="458.83" r="1.3"/>
<circle cx="168.45" cy="407.41" r="1.3"/>
<circle cx="166.42" cy="399.42" r="1.3"/>
<circle cx="164.95" cy="417.22" r="1.3"/>
<circle cx="167.20" cy="427.25" r="1.3"/>
<circle cx="168.95" cy="418.60" r="1.3"/>
<circle cx="165.16" cy="426.05" r="1.3"/>
<circle cx="148.48" cy="429.81" r="1.3"/>
<circle cx="168.81" cy="446.65" r="1.3"/>
<circle cx="168.72" cy="415.76" r="1.3"/>
<circle cx="148.98" cy="452.61" r="1.3"/>
<circle cx="148.81" cy="446.90" r="1.3"/>
<circle cx="149.61" cy="421.37" r="1.3"/>
<circle cx="149.53" cy="415.11" r="1.3"/>
<circle cx="167.59" cy="457.44" r="1.3"/>
<circle cx="167.25" cy="440.23" r="1.3"/>
<circle cx="148.62" cy="442.23" r="1.3"/>
<circle cx="166.33" cy="440.74" r="1.3"/>
<circle cx="150.85" cy="426.49" r="1.3"/>
<circle cx="148.20" cy="434.49" r="1.3"/>
<circle cx="166.77" cy="441.06" r="1.3"/>
<circle cx="166.72" cy="460.74" r="1.3"/>
<circle cx="148.44" cy="448.99" r="1.3"/>
<circle cx="167.03" cy="399.58" r="1.3"/>
<circle cx="172.55" cy="437.48" r="1.3"/>
<circle cx="149.22" cy="450.31" r="1.3"/>
<circle cx="148.37" cy="450.94" r="1.3"/>
<circle cx="148.54" cy="435.45" r="1.3"/>
<circle cx="148.07" cy="430.37" r="1.3"/>
<circle cx="166.65" cy="454.93" r="1.3"/>
<circle cx="149.26" cy="457.75" r="1.3"/>
<circle cx="167.10" cy="455.74" r="1.3"/>
<circle cx="170.26" cy="403.73" r="1.3"/>
<circle cx="168.45" cy="433.61" r="1.3"/>
<circle cx="171.93" cy="443.90" r="1.3"/>
<circle cx="150.70" cy="423.88" r="1.3"/>
<circle cx="170.06" cy="414.40" r="1.3"/>
<circle cx="166.02" cy="412.08" r="1.3"/>
<circle cx="151.11" cy="432.91" r="1.3"/>
<circle cx="166.55" cy="459.15" r="1.3"/>
<circle cx="166.62" cy="404.15" r="1.3"/>
<circle cx="166.99" cy="449.49" r="1.3"/>
<circle cx="164.87" cy="431.31" r="1.3"/>
<circle cx="149.68" cy="448.17" r="1.3"/>
<circle cx="148.39" cy="434.61" r="1.3"/>
<circle cx="150.47" cy="440.25" r="1.3"/>
<circle cx="174.15" cy="408.85" r="1.3"/>
<circle cx="166.24" cy="450.45" r="1.3"/>
<circle cx="147.66" cy="448.19" r="1.3"/>
<circle cx="149.28" cy="438.48" r="1.3"/>
<circle cx="150.13" cy="443.05" r="1.3"/>
<circle cx="167.65" cy="441.38" r="1.3"/>
<circle cx="168.48" cy="452.39" r="1.3"/>
<circle cx="166.58" cy="460.47" r="1.3"/>
<circle cx="147.78" cy="448.67" r="1.3"/>
<circle cx="148.79" cy="455.84" r="1.3"/>
<circle cx="166.17" cy="420.26" r="1.3"/>
<circle cx="166.76" cy="401.32" r="1.3"/>
<circle cx="172.97" cy="450.93" r="1.3"/>
<circle cx="148.98" cy="444.79" r="1.3"/>
<circle cx="168.29" cy="402.02" r="1.3"/>
<circle cx="151.35" cy="431.67" r="1.3"/>
<circle cx="167.13" cy="453.23" r="1.3"/>
<circle cx="169.01" cy="429.99" r="1.3"/>
<circle cx="168.57" cy="450.19" r="1.3"/>
<circle cx="166.30" cy="435.47" r="1.3"/>
<circle cx="167.84" cy="418.64" r="1.3"/>
<circle cx="167.61" cy="454.85" r="1.3"/>
<circle cx="150.69" cy="421.87" r="1.3"/>
<circle cx="147.70" cy="443.58" r="1.3"/>
<circle cx="152.07" cy="420.36" r="1.3"/>
<circle cx="148.61" cy="457.51" r="1.3"/>
<circle cx="167.38" cy="427.53" r="1.3"/>
<circle cx="168.57" cy="452.64" r="1.3"/>
<circle cx="147.73" cy="446.13" r="1.3"/>
<circle cx="168.75" cy="409.13" r="1.3"/>
<circle cx="167.95" cy="439.22" r="1.3"/>
<circle cx="165.44" cy="404.34" r="1.3"/>
<circle cx="173.08" cy="404.67" r="1.3"/>
<circle cx="167.32" cy="456.23" r="1.3"/>
<circle cx="147.69" cy="437.19" r="1.3"/>
<circle cx="167.00" cy="455.64" r="1.3"/>
<circle cx="166.29" cy="427.68" r="1.3"/>
<circle cx="148.38" cy="443.84" r="1.3"/>
<circle cx="147.94" cy="424.76" r="1.3"/>
<circle cx="148.26" cy="437.65" r="1.3"/>
<circle cx="148.52" cy="455.68" r="1.3"/>
<circle cx="151.51" cy="424.36" r="1.3"/>
<circle cx="168.57" cy="404.20" r="1.3"/>
<circle cx="165.60" cy="406.30" r="1.3"/>
<circle cx="168.60" cy="414.96" r="1.3"/>
<circle cx="167.51" cy="454.30" r="1.3"/>
<circle cx="165.18" cy="406.09" r="1.3"/>
<circle cx="166.69" cy="409.29" r="1.3"/>
<circle cx="149.13" cy="457.70" r="1.3"/>
<circle cx="166.87" cy="419.78" r="1.3"/>
<circle cx="165.92" cy="401.70" r="1.3"/>
<circle cx="167.18" cy="458.10" r="1.3"/>
<circle cx="148.83" cy="453.55" r="1.3"/>
<circle cx="149.46" cy="427.75" r="1.3"/>
<circle cx="151.08" cy="424.46" r="1.3"/>
<circle cx="164.65" cy="415.03" r="1.3"/>
<circle cx="149.55" cy="444.13" r="1.3"/>
<circle cx="151.17" cy="420.64" r="1.3"/>
<circle cx="167.41" cy="458.28" r="1.3"/>
<circle cx="167.30" cy="445.09" r="1.3"/>
<circle cx="166.97" cy="459.65" r="1.3"/>
<circle cx="150.12" cy="436.60" r="1.3"/>
<circle cx="166.98" cy="457.67" r="1.3"/>
<circle cx="166.93" cy="458.94" r="1.3"/>
<circle cx="166.89" cy="457.76" r="1.3"/>
<circle cx="148.42" cy="433.07" r="1.3"/>
<circle cx="168.80" cy="439.28" r="1.3"/>
<circle cx="165.28" cy="425.49" r="1.3"/>
<circle cx="168.79" cy="447.33" r="1.3"/>
<circle cx="165.76" cy="416.45" r="1.3"/>
<circle cx="169.99" cy="430.79" r="1.3"/>
<circle cx="150.10" cy="443.82" r="1.3"/>
<circle cx="169.43" cy="427.47" r="1.3"/>
<circle cx="167.41" cy="444.32" r="1.3"/>
<circle cx="150.10" cy="437.04" r="1.3"/>
<circle cx="167.49" cy="438.23" r="1.3"/>
<circle cx="169.47" cy="439.15" r="1.3"/>
<circle cx="165.19" cy="411.03" r="1.3"/>
<circle cx="168.01" cy="403.90" r="1.3"/>
<circle cx="167.29" cy="454.76" r="1.3"/>
<circle cx="167.55" cy="405.83" r="1.3"/>
<circle cx="165.75" cy="404.40" r="1.3"/>
<circle cx="167.61" cy="430.27" r="1.3"/>
<circle cx="165.08" cy="412.26" r="1.3"/>
<circle cx="166.77" cy="455.49" r="1.3"/>
<circle cx="166.41" cy="434.51" r="1.3"/>
<circle cx="167.18" cy="436.92" r="1.3"/>
<circle cx="163.86" cy="414.16" r="1.3"/>
<circle cx="148.88" cy="446.84" r="1.3"/>
<circle cx="168.13" cy="451.11" r="1.3"/>
<circle cx="173.45" cy="439.71" r="1.3"/>
<circle cx="167.00" cy="418.99" r="1.3"/>
<circle cx="152.32" cy="416.43" r="1.3"/>
<circle cx="149.64" cy="429.72" r="1.3"/>
<circle cx="150.76" cy="427.40" r="1.3"/>
<circle cx="149.17" cy="439.34" r="1.3"/>
<circle cx="147.99" cy="426.20" r="1.3"/>
<circle cx="148.16" cy="448.96" r="1.3"/>
<circle cx="167.62" cy="405.71" r="1.3"/>
<circle cx="166.34" cy="442.78" r="1.3"/>
<circle cx="166.79" cy="401.41" r="1.3"/>
<circle cx="151.82" cy="415.25" r="1.3"/>
<circle cx="148.57" cy="456.53" r="1.3"/>
<circle cx="148.59" cy="455.93" r="1.3"/>
<circle cx="166.88" cy="450.54" r="1.3"/>
<circle cx="168.38" cy="453.92" r="1.3"/>
<circle cx="166.09" cy="405.63" r="1.3"/>
<circle cx="166.68" cy="458.46" r="1.3"/>
<circle cx="166.56" cy="441.71" r="1.3"/>
<circle cx="167.38" cy="399.79" r="1.3"/>
<circle cx="150.33" cy="440.70" r="1.3"/>
<circle cx="168.95" cy="438.71" r="1.3"/>
<circle cx="149.38" cy="450.20" r="1.3"/>
<circle cx="165.48" cy="407.99" r="1.3"/>
<circle cx="166.08" cy="433.07" r="1.3"/>
<circle cx="165.07" cy="418.01" r="1.3"/>
<circle cx="167.61" cy="424.10" r="1.3"/>
<circle cx="149.22" cy="453.47" r="1.3"/>
<circle cx="169.76" cy="422.15" r="1.3"/>
<circle cx="165.16" cy="416.33" r="1.3"/>
<circle cx="150.07" cy="444.59" r="1.3"/>
<circle cx="149.35" cy="432.34" r="1.3"/>
<circle cx="149.92" cy="416.31" r="1.3"/>
<circle cx="149.55" cy="446.61" r="1.3"/>
<circle cx="166.57" cy="438.11" r="1.3"/>
<circle cx="149.11" cy="458.27" r="1.3"/>
<circle cx="149.08" cy="455.79" r="1.3"/>
<circle cx="166.77" cy="460.75" r="1.3"/>
<circle cx="167.98" cy="431.28" r="1.3"/>
<circle cx="166.94" cy="457.99" r="1.3"/>
<circle cx="166.78" cy="460.79" r="1.3"/>
<circle cx="172.41" cy="413.61" r="1.3"/>
<circle cx="148.80" cy="436.97" r="1.3"/>
<circle cx="148.47" cy="429.41" r="1.3"/>
<circle cx="167.08" cy="432.42" r="1.3"/>
<circle cx="170.51" cy="415.24" r="1.3"/>
<circle cx="150.13" cy="417.92" r="1.3"/>
<circle cx="149.59" cy="430.12" r="1.3"/>
<circle cx="152.83" cy="415.30" r="1.3"/>
<circle cx="149.35" cy="451.76" r="1.3"/>
<circle cx="167.73" cy="449.24" r="1.3"/>
<circle cx="167.94" cy="412.56" r="1.3"/>
<circle cx="167.10" cy="453.99" r="1.3"/>
<circle cx="149.23" cy="450.25" r="1.3"/>
<circle cx="166.64" cy="452.53" r="1.3"/>
<circle cx="148.58" cy="435.12" r="1.3"/>
<circle cx="150.55" cy="433.72" r="1.3"/>
<circle cx="164.49" cy="407.74" r="1.3"/>
<circle cx="150.26" cy="434.17" r="1.3"/>
<circle cx="149.22" cy="424.03" r="1.3"/>
<circle cx="148.83" cy="431.97" r="1.3"/>
<circle cx="167.03" cy="445.52" r="1.3"/>
<circle cx="151.01" cy="416.53" r="1.3"/>
<circle cx="148.34" cy="455.75" r="1.3"/>
<circle cx="167.30" cy="458.06" r="1.3"/>
<circle cx="168.30" cy="446.38" r="1.3"/>
<circle cx="150.19" cy="428.50" r="1.3"/>
<circle cx="149.18" cy="431.78" r="1.3"/>
<circle cx="166.97" cy="457.31" r="1.3"/>
<circle cx="149.15" cy="453.86" r="1.3"/>
<circle cx="149.45" cy="427.33" r="1.3"/>
<circle cx="165.11" cy="407.10" r="1.3"/>
<circle cx="163.46" cy="411.48" r="1.3"/>
<circle cx="148.12" cy="441.55" r="1.3"/>
<circle cx="148.65" cy="431.09" r="1.3"/>
<circle cx="169.27" cy="432.90" r="1.3"/>
<circle cx="168.47" cy="404.44" r="1.3"/>
<circle cx="167.72" cy="398.65" r="1.3"/>
<circle cx="149.25" cy="458.05" r="1.3"/>
<circle cx="148.98" cy="452.69" r="1.3"/>
<circle cx="170.45" cy="418.32" r="1.3"/>
<circle cx="149.49" cy="446.90" r="1.3"/>
<circle cx="147.93" cy="458.64" r="1.3"/>
<circle cx="149.77" cy="415.52" r="1.3"/>
<circle cx="169.17" cy="435.00" r="1.3"/>
<circle cx="166.18" cy="403.30" r="1.3"/>
<circle cx="167.96" cy="451.20" r="1.3"/>
<circle cx="167.66" cy="439.43" r="1.3"/>
<circle cx="166.16" cy="422.59" r="1.3"/>
<circle cx="169.33" cy="434.31" r="1.3"/>
<circle cx="168.33" cy="417.55" r="1.3"/>
<circle cx="148.63" cy="439.18" r="1.3"/>
<circle cx="148.73" cy="455.00" r="1.3"/>
<circle cx="169.67" cy="439.63" r="1.3"/>
<circle cx="166.58" cy="425.15" r="1.3"/>
<circle cx="166.99" cy="430.13" r="1.3"/>
<circle cx="145.23" cy="427.26" r="1.3"/>
<circle cx="148.84" cy="427.04" r="1.3"/>
<circle cx="166.09" cy="447.90" r="1.3"/>
<circle cx="148.67" cy="450.67" r="1.3"/>
<circle cx="148.77" cy="454.84" r="1.3"/>
<circle cx="167.46" cy="405.86" r="1.3"/>
<circle cx="172.97" cy="412.13" r="1.3"/>
<circle cx="149.00" cy="459.45" r="1.3"/>
<circle cx="149.17" cy="459.01" r="1.3"/>
<circle cx="166.40" cy="430.64" r="1.3"/>
<circle cx="167.16" cy="434.42" r="1.3"/>
<circle cx="167.13" cy="458.36" r="1.3"/>
<circle cx="166.33" cy="447.85" r="1.3"/>
<circle cx="168.35" cy="447.05" r="1.3"/>
<circle cx="166.85" cy="402.89" r="1.3"/>
<circle cx="148.89" cy="451.08" r="1.3"/>
<circle cx="168.28" cy="425.68" r="1.3"/>
<circle cx="149.08" cy="451.49" r="1.3"/>
<circle cx="147.87" cy="436.75" r="1.3"/>
<circle cx="147.87" cy="451.88" r="1.3"/>
<circle cx="149.81" cy="440.69" r="1.3"/>
<circle cx="166.18" cy="425.33" r="1.3"/>
<circle cx="166.00" cy="448.10" r="1.3"/>
<circle cx="151.03" cy="417.77" r="1.3"/>
<circle cx="166.60" cy="451.00" r="1.3"/>
<circle cx="149.27" cy="458.60" r="1.3"/>
<circle cx="168.54" cy="450.64" r="1.3"/>
<circle cx="167.34" cy="443.61" r="1.3"/>
<circle cx="168.31" cy="436.09" r="1.3"/>
<circle cx="164.56" cy="422.46" r="1.3"/>
<circle cx="166.76" cy="461.07" r="1.3"/>
<circle cx="164.22" cy="425.21" r="1.3"/>
<circle cx="151.56" cy="427.74" r="1.3"/>
<circle cx="167.97" cy="449.34" r="1.3"/>
<circle cx="166.21" cy="450.27" r="1.3"/>
<circle cx="147.82" cy="433.93" r="1.3"/>
<circle cx="169.88" cy="423.38" r="1.3"/>
<circle cx="148.24" cy="425.97" r="1.3"/>
<circle cx="148.19" cy="450.99" r="1.3"/>
<circle cx="78.50" cy="372.10" r="1.3"/>
<circle cx="93.30" cy="378.00" r="1.3"/>
<circle cx="132.50" cy="404.80" r="1.3"/>
<circle cx="133.10" cy="408.20" r="1.3"/>
<circle cx="140.20" cy="404.30" r="1.3"/>
<circle cx="144.30" cy="401.70" r="1.3"/>
<circle cx="147.20" cy="399.40" r="1.3"/>
<circle cx="142.40" cy="407.20" r="1.3"/>
<circle cx="146.70" cy="407.20" r="1.3"/>
<circle cx="142.90" cy="410.80" r="1.3"/>
<circle cx="141.40" cy="415.90" r="1.3"/>
<circle cx="145.30" cy="415.90" r="1.3"/>
<circle cx="141.20" cy="424.00" r="1.3"/>
<circle cx="141.20" cy="427.40" r="1.3"/>
<circle cx="142.10" cy="436.10" r="1.3"/>
<circle cx="143.80" cy="440.90" r="1.3"/>
<circle cx="143.40" cy="444.70" r="1.3"/>
<circle cx="146.30" cy="438.50" r="1.3"/>
<circle cx="145.80" cy="433.70" r="1.3"/>
<circle cx="144.20" cy="452.30" r="1.3"/>
<circle cx="144.40" cy="460.90" r="1.3"/>
<circle cx="144.90" cy="453.40" r="1.3"/>
<circle cx="143.60" cy="445.40" r="1.3"/>
<circle cx="191.70" cy="369.90" r="1.3"/>
<circle cx="173.00" cy="383.40" r="1.3"/>
<circle cx="190.80" cy="382.90" r="1.3"/>
<circle cx="199.40" cy="385.30" r="1.3"/>
<circle cx="172.50" cy="387.40" r="1.3"/>
<circle cx="187.90" cy="388.60" r="1.3"/>
<circle cx="169.60" cy="388.80" r="1.3"/>
<circle cx="174.40" cy="395.40" r="1.3"/>
<circle cx="180.20" cy="395.90" r="1.3"/>
<circle cx="197.50" cy="395.10" r="1.3"/>
<circle cx="168.50" cy="396.50" r="1.3"/>
<circle cx="199.40" cy="407.20" r="1.3"/>
<circle cx="203.50" cy="410.60" r="1.3"/>
<circle cx="191.70" cy="420.50" r="1.3"/>
<circle cx="214.50" cy="424.00" r="1.3"/>
<circle cx="197.70" cy="442.80" r="1.3"/>
<circle cx="184.90" cy="427.20" r="1.3"/>
<circle cx="188.10" cy="429.30" r="1.3"/>
<circle cx="184.20" cy="418.10" r="1.3"/>
<circle cx="183.10" cy="419.70" r="1.3"/>
<circle cx="178.90" cy="420.50" r="1.3"/>
<circle cx="180.40" cy="416.30" r="1.3"/>
<circle cx="179.40" cy="413.50" r="1.3"/>
<circle cx="180.40" cy="408.70" r="1.3"/>
<circle cx="182.30" cy="404.80" r="1.3"/>
<circle cx="182.80" cy="406.70" r="1.3"/>
<circle cx="177.00" cy="406.30" r="1.3"/>
<circle cx="174.60" cy="404.80" r="1.3"/>
<circle cx="176.50" cy="401.90" r="1.3"/>
<circle cx="178.50" cy="401.90" r="1.3"/>
<circle cx="174.60" cy="412.50" r="1.3"/>
<circle cx="174.60" cy="417.80" r="1.3"/>
<circle cx="176.50" cy="423.10" r="1.3"/>
<circle cx="177.00" cy="428.40" r="1.3"/>
<circle cx="178.90" cy="432.70" r="1.3"/>
<circle cx="176.50" cy="436.10" r="1.3"/>
<circle cx="177.00" cy="438.50" r="1.3"/>
<circle cx="178.00" cy="440.90" r="1.3"/>
<circle cx="175.10" cy="441.30" r="1.3"/>
<circle cx="172.20" cy="441.30" r="1.3"/>
<circle cx="178.50" cy="448.10" r="1.3"/>
<circle cx="173.20" cy="449.50" r="1.3"/>
<circle cx="170.80" cy="445.20" r="1.3"/>
<circle cx="178.20" cy="448.50" r="1.3"/>
<circle cx="173.20" cy="450.60" r="1.3"/>
<circle cx="172.90" cy="458.50" r="1.3"/>
<circle cx="176.40" cy="460.80" r="1.3"/>
<circle cx="179.20" cy="398.00" r="1.3"/>
<circle cx="178.30" cy="400.40" r="1.3"/>
<circle cx="176.30" cy="402.30" r="1.3"/>
<circle cx="179.20" cy="402.80" r="1.3"/>
<circle cx="174.40" cy="405.20" r="1.3"/>
<circle cx="176.80" cy="406.60" r="1.3"/>
<circle cx="182.10" cy="404.70" r="1.3"/>
<circle cx="181.60" cy="407.10" r="1.3"/>
<circle cx="168.70" cy="391.70" r="1.3"/>
<circle cx="171.10" cy="391.70" r="1.3"/>
<circle cx="173.90" cy="397.00" r="1.3"/>
<circle cx="169.50" cy="389.50" r="1.3"/>
<circle cx="169.20" cy="392.30" r="1.3"/>
</g>
<circle cx="247.4" cy="366.6" r="1.35" fill="#d0820e" stroke="#7a4a00" stroke-width="0.5"/>
<circle cx="178.3" cy="378.1" r="1.35" fill="#d0820e" stroke="#7a4a00" stroke-width="0.5"/>
<circle cx="240.9" cy="403.7" r="1.35" fill="#d0820e" stroke="#7a4a00" stroke-width="0.5"/>
<circle cx="262.2" cy="421.4" r="1.35" fill="#d0820e" stroke="#7a4a00" stroke-width="0.5"/>
<circle cx="166.4" cy="399.3" r="1.35" fill="#b00020" stroke="#600010" stroke-width="0.5"/>
<circle cx="144.1" cy="420.7" r="1.35" fill="#b00020" stroke="#600010" stroke-width="0.5"/>
<text x="232.90" y="360.10" font-size="7.4" textLength="23.80" lengthAdjust="spacingAndGlyphs" fill="#e8a33c" stroke="#e8a33c" stroke-width="0.06">CXCR6</text>
<text x="168.20" y="372.60" font-size="7.4" textLength="19.00" lengthAdjust="spacingAndGlyphs" fill="#e8a33c" stroke="#e8a33c" stroke-width="0.06">CCR5</text>
<text x="230.10" y="397.90" font-size="7.4" textLength="19.10" lengthAdjust="spacingAndGlyphs" fill="#e8a33c" stroke="#e8a33c" stroke-width="0.06">CCR6</text>
<text x="246.90" y="415.70" font-size="7.4" textLength="19.20" lengthAdjust="spacingAndGlyphs" fill="#e8a33c" stroke="#e8a33c" stroke-width="0.06">CCR4</text>
<text x="143.80" y="393.20" font-size="7.4" textLength="20.80" lengthAdjust="spacingAndGlyphs" fill="#b0173d" stroke="#b0173d" stroke-width="0.06">LMNA</text>
<text x="108.70" y="422.60" font-size="7.4" textLength="27.00" lengthAdjust="spacingAndGlyphs" fill="#b0173d" stroke="#b0173d" stroke-width="0.06">CASP10</text>
<text x="180.60" y="458.80" font-size="7.4" textLength="26.00" lengthAdjust="spacingAndGlyphs" fill="#b0173d" stroke="#b0173d" stroke-width="0.06">PARP14</text>
<text x="281.60" y="345.10" font-size="11.8" font-weight="bold" fill="#000" stroke="#000" stroke-width="0.22">D</text>
<line x1="306.90" y1="459.20" x2="309.50" y2="459.20" stroke="#231f20" stroke-width="1"/>
<text x="303.90" y="461.30" font-size="8.2" text-anchor="end" stroke="#231f20" stroke-width="0.22">0</text>
<line x1="306.90" y1="441.20" x2="309.50" y2="441.20" stroke="#231f20" stroke-width="1"/>
<text x="303.90" y="443.30" font-size="8.2" text-anchor="end" stroke="#231f20" stroke-width="0.22">10</text>
<line x1="306.90" y1="423.20" x2="309.50" y2="423.20" stroke="#231f20" stroke-width="1"/>
<text x="303.90" y="425.30" font-size="8.2" text-anchor="end" stroke="#231f20" stroke-width="0.22">20</text>
<line x1="306.90" y1="405.20" x2="309.50" y2="405.20" stroke="#231f20" stroke-width="1"/>
<text x="303.90" y="407.30" font-size="8.2" text-anchor="end" stroke="#231f20" stroke-width="0.22">30</text>
<line x1="306.90" y1="387.20" x2="309.50" y2="387.20" stroke="#231f20" stroke-width="1"/>
<text x="303.90" y="389.30" font-size="8.2" text-anchor="end" stroke="#231f20" stroke-width="0.22">40</text>
<text transform="translate(288.9,451.7) rotate(-90)" font-size="8.9" textLength="60.5" lengthAdjust="spacingAndGlyphs" fill="#231f20" stroke="#231f20" stroke-width="0.2">Percentage of Treg</text>
<rect x="314.10" y="458.56" width="18.10" height="0.99" fill="#a6002b"/>
<rect x="314.10" y="459.10" width="18.10" height="0.45" fill="#2c4a86"/>
<line x1="323.15" y1="459.10" x2="323.15" y2="458.20" stroke="#2c4a86" stroke-width="1.1"/>
<line x1="318.75" y1="458.20" x2="327.55" y2="458.20" stroke="#2c4a86" stroke-width="1.1"/>
<rect x="341.50" y="435.61" width="17.70" height="23.94" fill="#a6002b"/>
<rect x="341.50" y="451.81" width="17.70" height="7.74" fill="#2c4a86"/>
<line x1="350.35" y1="435.61" x2="350.35" y2="429.49" stroke="#a6002b" stroke-width="1.1"/>
<line x1="345.95" y1="429.49" x2="354.75" y2="429.49" stroke="#a6002b" stroke-width="1.1"/>
<line x1="350.35" y1="451.81" x2="350.35" y2="447.67" stroke="#2c4a86" stroke-width="1.1"/>
<line x1="345.95" y1="447.67" x2="354.75" y2="447.67" stroke="#2c4a86" stroke-width="1.1"/>
<rect x="368.30" y="454.24" width="18.20" height="5.31" fill="#a6002b"/>
<rect x="368.30" y="456.67" width="18.20" height="2.88" fill="#2c4a86"/>
<line x1="377.40" y1="454.24" x2="377.40" y2="453.16" stroke="#a6002b" stroke-width="1.1"/>
<line x1="373.00" y1="453.16" x2="381.80" y2="453.16" stroke="#a6002b" stroke-width="1.1"/>
<line x1="377.40" y1="456.67" x2="377.40" y2="455.05" stroke="#2c4a86" stroke-width="1.1"/>
<line x1="373.00" y1="455.05" x2="381.80" y2="455.05" stroke="#2c4a86" stroke-width="1.1"/>
<rect x="395.60" y="405.91" width="18.10" height="53.64" fill="#a6002b"/>
<rect x="395.60" y="439.93" width="18.10" height="19.62" fill="#2c4a86"/>
<line x1="404.65" y1="405.91" x2="404.65" y2="402.67" stroke="#a6002b" stroke-width="1.1"/>
<line x1="400.25" y1="402.67" x2="409.05" y2="402.67" stroke="#a6002b" stroke-width="1.1"/>
<line x1="404.65" y1="439.93" x2="404.65" y2="437.95" stroke="#2c4a86" stroke-width="1.1"/>
<line x1="400.25" y1="437.95" x2="409.05" y2="437.95" stroke="#2c4a86" stroke-width="1.1"/>
<line x1="309.50" y1="384.20" x2="309.50" y2="459.90" stroke="#231f20" stroke-width="1.2"/>
<line x1="306.70" y1="459.30" x2="417.70" y2="459.30" stroke="#231f20" stroke-width="1.2"/>
<line x1="323.50" y1="459.30" x2="323.50" y2="461.60" stroke="#231f20" stroke-width="1"/>
<line x1="350.40" y1="459.30" x2="350.40" y2="461.60" stroke="#231f20" stroke-width="1"/>
<line x1="377.40" y1="459.30" x2="377.40" y2="461.60" stroke="#231f20" stroke-width="1"/>
<line x1="404.60" y1="459.30" x2="404.60" y2="461.60" stroke="#231f20" stroke-width="1"/>
<text x="313.00" y="471.90" font-size="7.8" textLength="20.00" lengthAdjust="spacingAndGlyphs" stroke="#231f20" stroke-width="0.22">FasL -</text>
<text x="340.10" y="471.90" font-size="7.8" textLength="19.80" lengthAdjust="spacingAndGlyphs" stroke="#231f20" stroke-width="0.22">FasL+</text>
<text x="366.90" y="471.90" font-size="7.8" textLength="20.80" lengthAdjust="spacingAndGlyphs" stroke="#231f20" stroke-width="0.22">FasL -</text>
<text x="393.80" y="471.90" font-size="7.8" textLength="21.10" lengthAdjust="spacingAndGlyphs" stroke="#231f20" stroke-width="0.22">FasL+</text>
<line x1="314.50" y1="476.90" x2="358.80" y2="476.90" stroke="#808080" stroke-width="1.6"/>
<line x1="370.00" y1="476.90" x2="414.20" y2="476.90" stroke="#808080" stroke-width="1.6"/>
<text x="324.20" y="486.60" font-size="7.8" textLength="25.60" lengthAdjust="spacingAndGlyphs" stroke="#231f20" stroke-width="0.22">Treg&#160;&#160;A</text>
<text x="379.70" y="486.60" font-size="7.8" textLength="24.90" lengthAdjust="spacingAndGlyphs" stroke="#231f20" stroke-width="0.22">Treg&#160;&#160;B</text>
<line x1="325.30" y1="421.10" x2="350.90" y2="421.10" stroke="#3c3c3c" stroke-width="1.15"/>
<line x1="325.60" y1="419.20" x2="325.60" y2="423.00" stroke="#3c3c3c" stroke-width="1.1"/>
<line x1="350.60" y1="419.20" x2="350.60" y2="423.00" stroke="#3c3c3c" stroke-width="1.1"/>
<path d="M335.30,417.30h1.9M336.25,416.30v2.0M335.55,416.60l1.4,1.4M336.95,416.60l-1.4,1.4" stroke="#222" stroke-width="0.75"/>
<path d="M338.80,417.30h1.9M339.75,416.30v2.0M339.05,416.60l1.4,1.4M340.45,416.60l-1.4,1.4" stroke="#222" stroke-width="0.75"/>
<line x1="351.00" y1="381.30" x2="405.40" y2="381.30" stroke="#3c3c3c" stroke-width="1.15"/>
<line x1="351.30" y1="379.40" x2="351.30" y2="383.20" stroke="#3c3c3c" stroke-width="1.1"/>
<line x1="405.10" y1="379.40" x2="405.10" y2="383.20" stroke="#3c3c3c" stroke-width="1.1"/>
<path d="M375.45,377.80h1.9M376.40,376.80v2.0M375.70,377.10l1.4,1.4M377.10,377.10l-1.4,1.4" stroke="#222" stroke-width="0.75"/>
<path d="M378.95,377.80h1.9M379.90,376.80v2.0M379.20,377.10l1.4,1.4M380.60,377.10l-1.4,1.4" stroke="#222" stroke-width="0.75"/>
<line x1="378.00" y1="393.50" x2="405.00" y2="393.50" stroke="#3c3c3c" stroke-width="1.15"/>
<line x1="378.30" y1="391.60" x2="378.30" y2="395.40" stroke="#3c3c3c" stroke-width="1.1"/>
<line x1="404.70" y1="391.60" x2="404.70" y2="395.40" stroke="#3c3c3c" stroke-width="1.1"/>
<path d="M386.90,390.10h1.9M387.85,389.10v2.0M387.15,389.40l1.4,1.4M388.55,389.40l-1.4,1.4" stroke="#222" stroke-width="0.75"/>
<path d="M390.40,390.10h1.9M391.35,389.10v2.0M390.65,389.40l1.4,1.4M392.05,389.40l-1.4,1.4" stroke="#222" stroke-width="0.75"/>
<path d="M393.90,390.10h1.9M394.85,389.10v2.0M394.15,389.40l1.4,1.4M395.55,389.40l-1.4,1.4" stroke="#222" stroke-width="0.75"/>
<rect x="421.20" y="413.10" width="7.60" height="6.30" fill="#2c4a86"/>
<rect x="421.20" y="423.70" width="7.60" height="6.30" fill="#a6002b"/>
<text x="431.90" y="418.80" font-size="8.0" textLength="51.90" lengthAdjust="spacingAndGlyphs" stroke="#231f20" stroke-width="0.22">Early Apoptotic</text>
<text x="431.90" y="429.00" font-size="8.0" textLength="50.00" lengthAdjust="spacingAndGlyphs" stroke="#231f20" stroke-width="0.22">Late Apoptotic</text>
<rect x="0.6" y="0.6" width="518.8" height="518.8" fill="none" stroke="#000" stroke-width="1.2"/>
</svg></div>
</body></html>
